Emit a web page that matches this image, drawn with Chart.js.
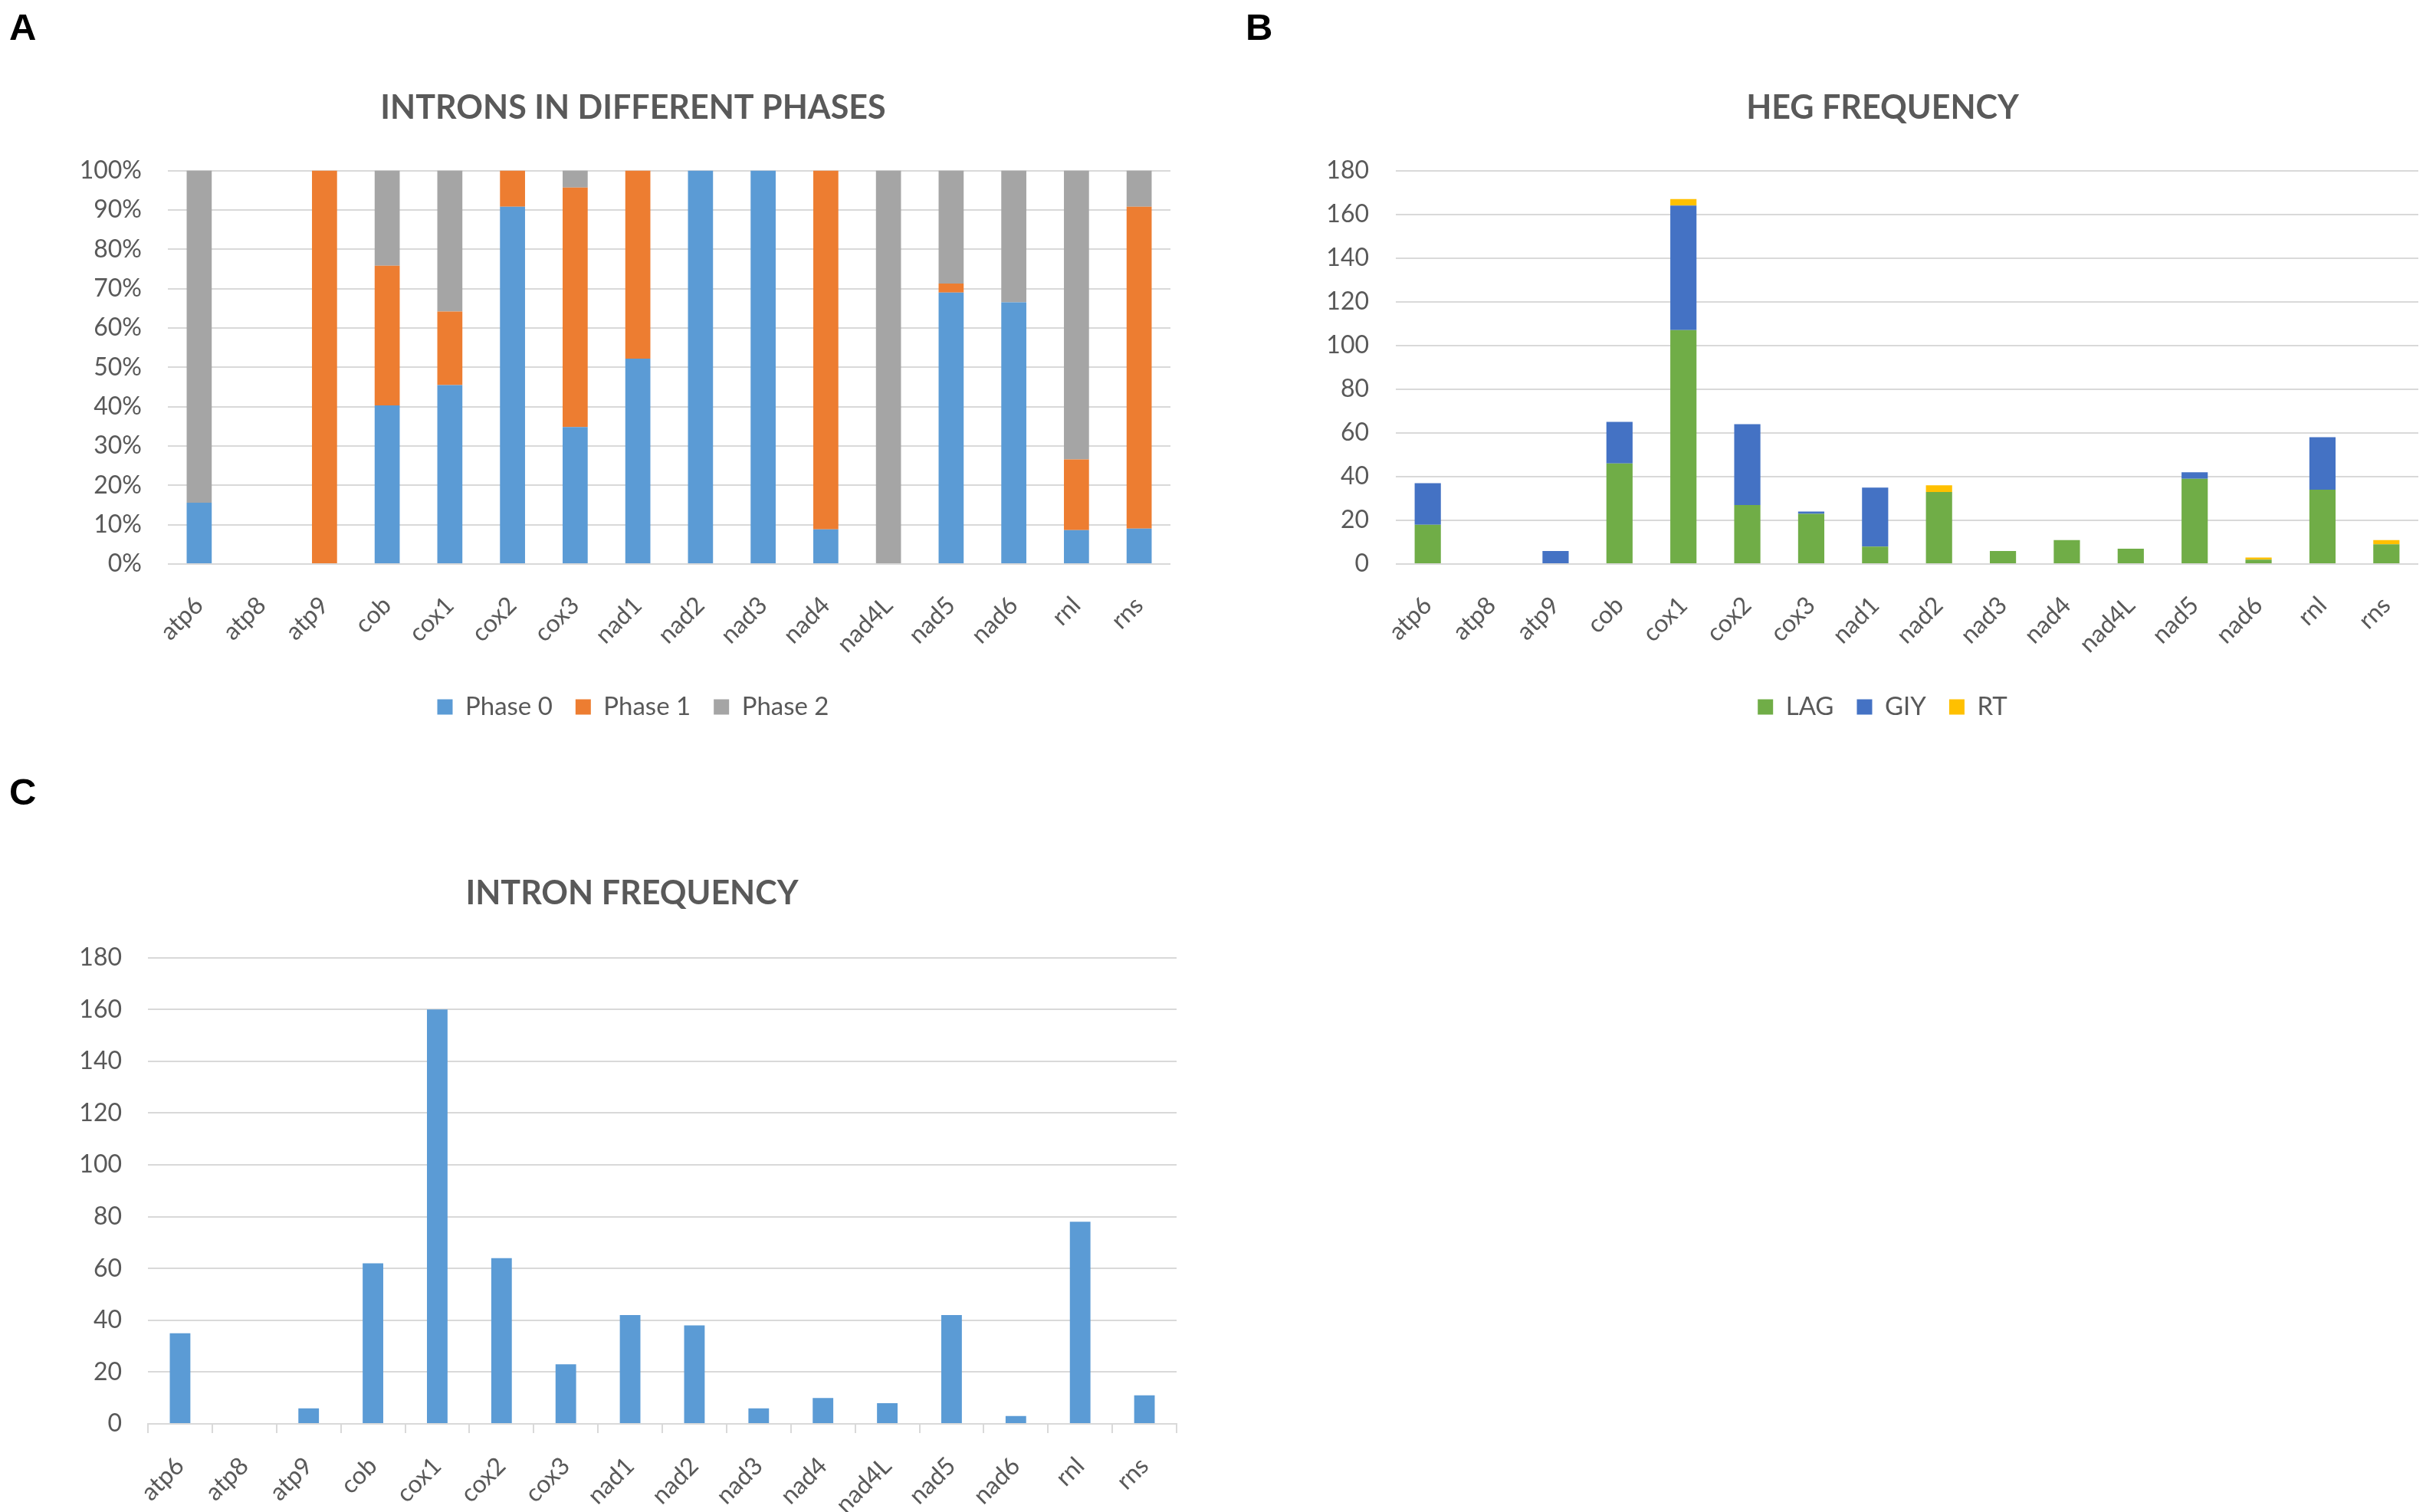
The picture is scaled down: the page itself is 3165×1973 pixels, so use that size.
<!DOCTYPE html>
<html>
<head>
<meta charset="utf-8">
<script src="https://cdn.jsdelivr.net/npm/chart.js@4.4.1/dist/chart.umd.min.js"></script>
<style>
  html, body { margin: 0; padding: 0; background: #fff; }
  body { width: 3165px; height: 1973px; position: relative; overflow: hidden; }
  canvas { position: absolute; }
  .panel-letter {
    position: absolute;
    font-family: "Liberation Sans", Arial, sans-serif;
    font-weight: bold;
    font-size: 49px;
    line-height: 1;
    color: #000;
  }
</style>
</head>
<body>
<div class="panel-letter" style="left:12px; top:11px;">A</div>
<div class="panel-letter" style="left:1625px; top:11px;">B</div>
<div class="panel-letter" style="left:12px; top:1009px;">C</div>

<canvas id="chart-phases" width="1580" height="960" style="left:0px; top:0px;"></canvas>
<canvas id="chart-heg" width="1600" height="960" style="left:1600px; top:0px;"></canvas>
<canvas id="chart-introns" width="1600" height="993" style="left:0px; top:980px;"></canvas>

<script>
// === DATA ===

const genes = ["atp6", "atp8", "atp9", "cob", "cox1", "cox2", "cox3", "nad1",
               "nad2", "nad3", "nad4", "nad4L", "nad5", "nad6", "rnl", "rns"];

// A: share of introns per phase (%)
const phase0 = [15.6, 0, 0,   40.3, 45.5, 90.8, 34.8, 52.2, 100, 100, 8.8,  0,   69.0, 66.5, 8.6,  9.0];
const phase1 = [0,    0, 100, 35.5, 18.7, 9.2,  60.9, 47.8, 0,   0,   91.2, 0,   2.3,  0,    18.0, 81.8];
const phase2 = [84.4, 0, 0,   24.2, 35.8, 0,    4.3,  0,    0,   0,   0,    100, 28.7, 33.5, 73.4, 9.2];

// B: HEG counts
const hegLAG = [18, 0, 0, 46, 107, 27, 23, 8,  33, 6, 11, 7, 39, 2, 34, 9];
const hegGIY = [19, 0, 6, 19, 57,  37, 1,  27, 0,  0, 0,  0, 3,  0, 24, 0];
const hegRT  = [0,  0, 0, 0,  3,   0,  0,  0,  3,  0, 0,  0, 0,  1, 0,  2];

// C: intron counts
const intronCount = [35, 0, 6, 62, 160, 64, 23, 42, 38, 6, 10, 8, 42, 3, 78, 11];

// === STYLE ===

const COL_TEXT = "#595959";
const COL_GRID = "#D9D9D9";

Chart.defaults.font.family = "Lato, 'Open Sans', sans-serif";
Chart.defaults.color = COL_TEXT;

const tickFont   = { size: 32 };
const legendFont = { size: 33 };
const titleFont  = { size: 43, weight: "bold" };

const fixWidth  = (w) => (scale) => { scale.width = w; };
const fixHeight = (h) => (scale) => { scale.height = h; };

const yAxis = (max, step, width, pad, fmt) => ({
  min: 0,
  max,
  stacked: true,
  ticks: {
    stepSize: step,
    padding: pad,
    font: tickFont,
    color: COL_TEXT,
    callback: fmt || ((v) => v),
  },
  grid: { color: COL_GRID, lineWidth: 2, drawTicks: false },
  border: { display: false },
  afterFit: fixWidth(width),
});

// empty axis on the right, only there to balance the title over the plot
const spacerAxis = (width) => ({
  type: "linear",
  position: "right",
  ticks: { display: false },
  grid: { display: false, drawTicks: false },
  border: { display: false },
  afterFit: fixWidth(width),
});

const xAxis = (height, pad, withTicks) => ({
  stacked: true,
  ticks: {
    font: tickFont,
    color: COL_TEXT,
    autoSkip: false,
    maxRotation: 45,
    minRotation: 45,
    padding: pad,
    labelOffset: 0,
  },
  grid: withTicks
    ? { display: true, drawOnChartArea: false, drawTicks: true, tickLength: 12, color: COL_GRID, lineWidth: 2 }
    : { display: false, drawTicks: false },
  border: withTicks
    ? { display: true, color: COL_GRID, width: 2 }
    : { display: false },
  afterFit: fixHeight(height),
});

const legendOpts = {
  position: "bottom",
  labels: {
    font: legendFont,
    color: COL_TEXT,
    boxWidth: 20,
    boxHeight: 20,
    padding: 30,
  },
};

const titleOpts = (text, top, bottom) => ({
  display: true,
  text,
  font: titleFont,
  color: COL_TEXT,
  padding: { top, bottom },
});

const series = (label, data, color, pct) => ({
  label,
  data,
  yAxisID: "y",
  backgroundColor: color,
  borderWidth: 0,
  barPercentage: pct,
  categoryPercentage: 1,
});

// === A: INTRONS IN DIFFERENT PHASES ===

new Chart(document.getElementById("chart-phases"), {
  type: "bar",
  data: {
    labels: genes,
    datasets: [
      series("Phase 0", phase0, "#5B9BD5", 0.4),
      series("Phase 1", phase1, "#ED7D31", 0.4),
      series("Phase 2", phase2, "#A5A5A5", 0.4),
    ],
  },
  options: {
    responsive: false,
    animation: false,
    devicePixelRatio: 1,
    layout: { padding: { left: 95, right: 23, top: 0, bottom: 11 } },
    plugins: {
      title: titleOpts("INTRONS IN DIFFERENT PHASES", 115, 56),
      legend: legendOpts,
      tooltip: { enabled: false },
    },
    scales: {
      x: xAxis(140, 35, false),
      y: yAxis(100, 10, 124, 34, (v) => v + "%"),
      yRight: spacerAxis(30),
    },
  },
});

// === B: HEG FREQUENCY ===

new Chart(document.getElementById("chart-heg"), {
  type: "bar",
  data: {
    labels: genes,
    datasets: [
      series("LAG", hegLAG, "#70AD47", 0.41),
      series("GIY", hegGIY, "#4472C4", 0.41),
      series("RT",  hegRT,  "#FFC000", 0.41),
    ],
  },
  options: {
    responsive: false,
    animation: false,
    devicePixelRatio: 1,
    layout: { padding: { left: 125, right: 13, top: 0, bottom: 11 } },
    plugins: {
      title: titleOpts("HEG FREQUENCY", 115, 56),
      legend: legendOpts,
      tooltip: { enabled: false },
    },
    scales: {
      x: xAxis(140, 35, false),
      y: yAxis(180, 20, 96, 35),
      yRight: spacerAxis(32),
    },
  },
});

// === C: INTRON FREQUENCY ===

new Chart(document.getElementById("chart-introns"), {
  type: "bar",
  data: {
    labels: genes,
    datasets: [series("Introns", intronCount, "#5B9BD5", 0.32)],
  },
  options: {
    responsive: false,
    animation: false,
    devicePixelRatio: 1,
    layout: { padding: { left: 98, right: 49, top: 0, bottom: 0 } },
    plugins: {
      title: titleOpts("INTRON FREQUENCY", 160, 58),
      legend: { display: false },
      tooltip: { enabled: false },
    },
    scales: {
      x: xAxis(115, 24, true),
      y: yAxis(180, 20, 95, 34),
      yRight: spacerAxis(16),
    },
  },
});
</script>
</body>
</html>
